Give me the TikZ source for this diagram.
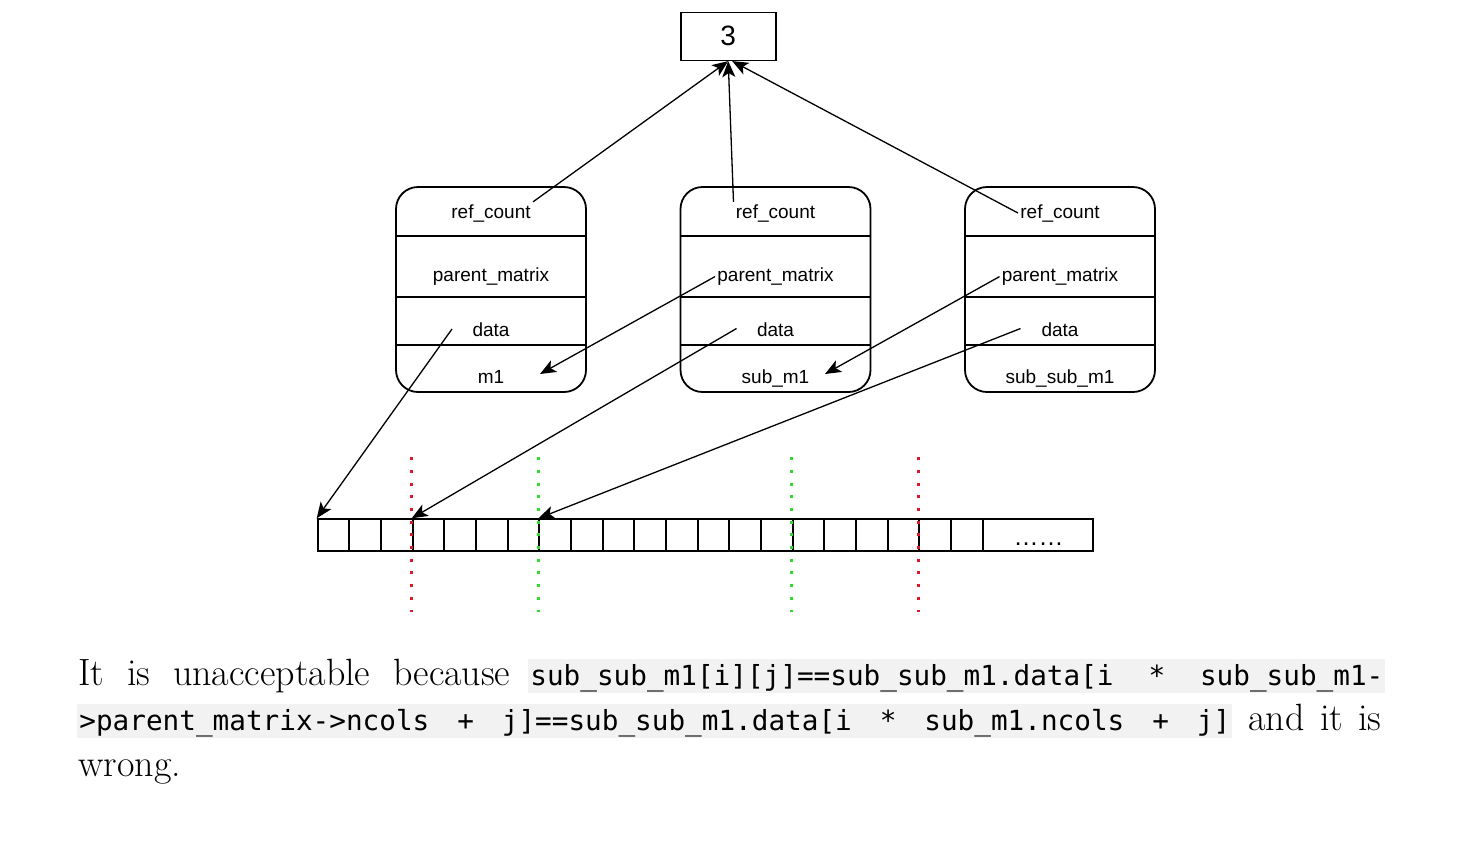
\documentclass[tikz,border=0pt]{standalone}
\usepackage{fontspec}
\newfontfamily\diafont{Liberation Sans}
\newfontfamily\codefont{DejaVu Sans Mono}
\usetikzlibrary{arrows.meta}
\definecolor{cutred}{HTML}{E0162B}
\definecolor{cutgreen}{HTML}{2EDB2E}
\definecolor{codebg}{HTML}{F2F2F2}
\tikzset{>={Stealth[length=8pt,width=6.5pt,inset=2pt]},
  arrow/.style={->,line width=0.65pt},
  countbox/.style={draw,line width=0.8pt,minimum width=47.5pt,minimum height=24pt,
    inner sep=0pt,font=\diafont\fontsize{14pt}{16pt}\selectfont},
  rec/.style={draw,rounded corners=11pt,line width=0.9pt,minimum width=95pt,
    minimum height=102.5pt,inner sep=0pt},
  divider/.style={line width=1pt},
  field/.style={anchor=base,inner sep=1pt,font=\diafont\fontsize{9.5pt}{11pt}\selectfont},
  cell/.style={draw,line width=1pt,minimum width=15.83pt,minimum height=15.83pt,
    inner sep=0pt,anchor=north west},
  cutline/.style={line width=1.5pt,dash pattern=on 1.5pt off 4.85pt},
  prose/.style={anchor=base west,inner sep=0pt,font=\fontsize{19pt}{22pt}\selectfont},
  codebox/.style={anchor=base west,fill=codebg,inner xsep=1pt,inner ysep=0pt,
    text height=13.25pt,text depth=3.75pt,font=\codefont\fontsize{13.84pt}{16pt}\selectfont},
}
\begin{document}
\begin{tikzpicture}[x=0.5pt,y=-0.5pt]
  \useasboundingbox (0,0) rectangle (1471,847);
  \fill[white] (0,0) rectangle (1471,847);

  % shared reference counter
  \node[countbox] (three) at (728.2,36.3) {3};

  % the three matrix structs
  \foreach \cx/\nm/\lab in {491/l/m1,775.5/m/sub\_m1,1060/r/sub\_sub\_m1}{
    \node[rec] (\nm-rec) at (\cx,289.5) {};
    \draw[divider] (\cx-95,235.5) -- (\cx+95,235.5);
    \draw[divider] (\cx-95,297) -- (\cx+95,297);
    \draw[divider] (\cx-95,344.5) -- (\cx+95,344.5);
    \node[field] (\nm-rc) at (\cx,218) {ref\_count};
    \node[field] (\nm-pm) at (\cx,281.5) {parent\_matrix};
    \node[field] (\nm-dt) at (\cx,336) {data};
    \node[field] (\nm-nm) at (\cx,383.5) {\lab};
  }

  % the shared data buffer
  \foreach \i in {0,...,20}
    \node[cell] (cell\i) at (316.7+31.67*\i,518.3) {};
  \node[cell,minimum width=55pt] (cellmore) at (981.7,518.3) {};
  \node[anchor=base,inner sep=0pt,font=\diafont\fontsize{12.5pt}{14pt}\selectfont]
    (dots) at (1038.5,545) {……};

  % row boundaries of the sub-matrices
  \foreach \k/\c in {3/cutred,7/cutgreen,15/cutgreen,19/cutred}
    \draw[cutline,\c] ([yshift=30.6pt]cell\k.north west) -- ([yshift=-30pt]cell\k.south west);

  % free ends of the pointers
  \coordinate (l-ptr) at (540,374);
  \coordinate (m-ptr) at (825,374);
  \coordinate (l-src) at (452,329);
  \coordinate (m-src) at (736.5,328.5);
  \coordinate (r-src) at (1020.5,328.5);

  \draw[arrow] (l-rc.north east) -- (three.south);
  \draw[arrow] (m-rc.north west) -- (three.south);
  \draw[arrow] (r-rc.west) -- ([xshift=2pt]three.south);
  \draw[arrow] (m-pm.west) -- (l-ptr);
  \draw[arrow] (r-pm.west) -- (m-ptr);
  \draw[arrow] (l-src) -- (cell0.north west);
  \draw[arrow] (m-src) -- (cell3.north west);
  \draw[arrow] (r-src) -- (cell7.north west);

  % text under the figure
  \node[prose] (because) at (78,685) {\makebox[216pt][s]{It is unacceptable because}};
  \node[codebox] (code1) at (528,685)
    {\makebox[426.5pt][l]{sub\_sub\_m1[i][j]==sub\_sub\_m1.data[i \hfill* \hfill sub\_sub\_m1-}};
  \node[codebox] (code2) at (77,730.5)
    {\makebox[575.5pt][l]{>parent\_matrix->ncols \hfill+ \hfill j]==sub\_sub\_m1.data[i \hfill* \hfill sub\_m1.ncols \hfill+ \hfill j]}};
  \node[prose] (andit) at (1248,730.5) {\makebox[66.5pt][s]{and it is}};
  \node[prose] (wrong) at (78,776) {wrong.};
\end{tikzpicture}
\end{document}
